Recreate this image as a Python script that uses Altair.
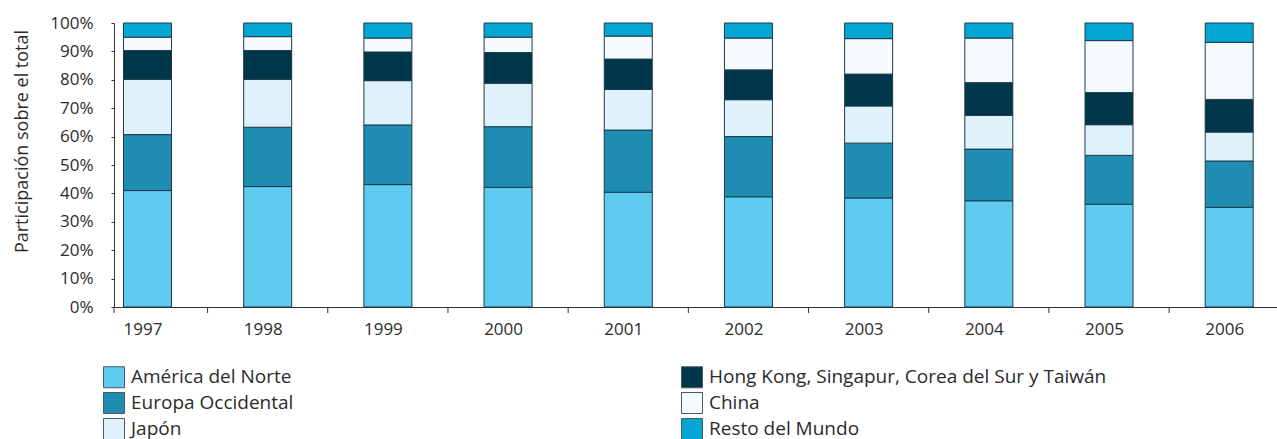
import altair as alt
import pandas as pd

years = [1997, 1998, 1999, 2000, 2001, 2002, 2003, 2004, 2005, 2006]
regions = ["América del Norte", "Europa Occidental", "Japón",
           "Hong Kong, Singapur, Corea del Sur y Taiwán", "China", "Resto del Mundo"]
colors = ["#5fcbf1", "#1e8db1", "#dff2fb", "#00364a", "#f5fafe", "#05a6d4"]

america = [41.0, 42.4, 43.1, 42.1, 40.4, 38.8, 38.4, 37.4, 36.2, 35.1]
europa = [19.7, 20.9, 21.0, 21.4, 21.9, 21.2, 19.3, 18.2, 17.2, 16.3]
japon = [19.5, 16.9, 15.6, 15.3, 14.3, 13.0, 13.1, 11.9, 10.8, 10.2]
hongkong = [10.1, 10.1, 10.1, 10.8, 10.7, 10.5, 11.2, 11.5, 11.3, 11.5]
china = [4.7, 4.9, 4.9, 5.4, 8.1, 11.2, 12.5, 15.7, 18.3, 20.1]
resto = [5.0, 4.8, 5.3, 5.0, 4.6, 5.3, 5.5, 5.3, 6.2, 6.8]

series = [america, europa, japon, hongkong, china, resto]
rows = []
for ri, (name, vals) in enumerate(zip(regions, series)):
    for y, v in zip(years, vals):
        rows.append({"year": y, "region": name, "idx": ri, "value": v / 100.0})
df = pd.DataFrame(rows)

mid_ticks = pd.DataFrame({"x": [(a + b) / 2 for a, b in zip(years[:-1], years[1:])]})

FONT = "Open Sans"
TEXT = "#2b2b2b"
AXIS = "#333333"

x_scale = alt.Scale(domain=[1996.7213, 2006.3977], nice=False, zero=False, padding=0)

bars = alt.Chart(df).mark_bar(size=48, stroke="#1c3b4a", strokeWidth=1).encode(
    x=alt.X("year:Q", scale=x_scale, title=None,
            axis=alt.Axis(values=years, format="d", ticks=False, grid=False,
                          labelFontSize=17, labelFont=FONT, labelColor=TEXT,
                          labelPadding=14, labelOffset=-5, domainColor=AXIS,
                          labelFlush=False)),
    y=alt.Y("value:Q", stack="zero",
            scale=alt.Scale(domain=[0, 1], nice=False),
            title="Participación sobre el total",
            axis=alt.Axis(values=[i / 10 for i in range(11)], format=".0%",
                          grid=False, tickSize=3, tickColor=AXIS, domainColor=AXIS,
                          labelFontSize=17, labelFont=FONT, labelColor=TEXT,
                          labelPadding=18, titleFontSize=18, titleFont=FONT,
                          titleFontWeight="normal", titleColor=TEXT,
                          titleAngle=-90, titleAlign="center", titleBaseline="alphabetic",
                          titleX=-87, titleY=118)),
    color=alt.Color("region:N", scale=alt.Scale(domain=regions, range=colors), title=None,
                    legend=alt.Legend(orient="none", legendX=-11, legendY=343,
                                      columns=2, direction="vertical",
                                      symbolType="square", symbolSize=441,
                                      symbolStrokeColor="#4a5a63", symbolStrokeWidth=1,
                                      symbolOpacity=1,
                                      labelFont=FONT, labelFontSize=19, labelColor=TEXT,
                                      labelOffset=6, columnPadding=385, rowPadding=0,
                                      padding=0, labelLimit=600)),
    order=alt.Order("idx:Q", sort="ascending"),
)

ticks = alt.Chart(mid_ticks).mark_rule(color=AXIS, strokeWidth=1).encode(
    x=alt.X("x:Q", scale=x_scale),
    y=alt.value(284),
    y2=alt.value(290),
)

yext = alt.Chart(mid_ticks.head(1)).mark_rule(color=AXIS, strokeWidth=1).encode(
    x=alt.value(0),
    y=alt.value(284),
    y2=alt.value(290),
)

chart = alt.layer(bars, ticks, yext).properties(
    width=1163, height=284,
    autosize=alt.AutoSizeParams(type="none"),
    padding={"left": 114, "top": 23, "right": 0, "bottom": 132},
    background="white",
).configure_view(stroke=None)

chart.save("out.html", embed_options={"renderer": "svg", "actions": False})
